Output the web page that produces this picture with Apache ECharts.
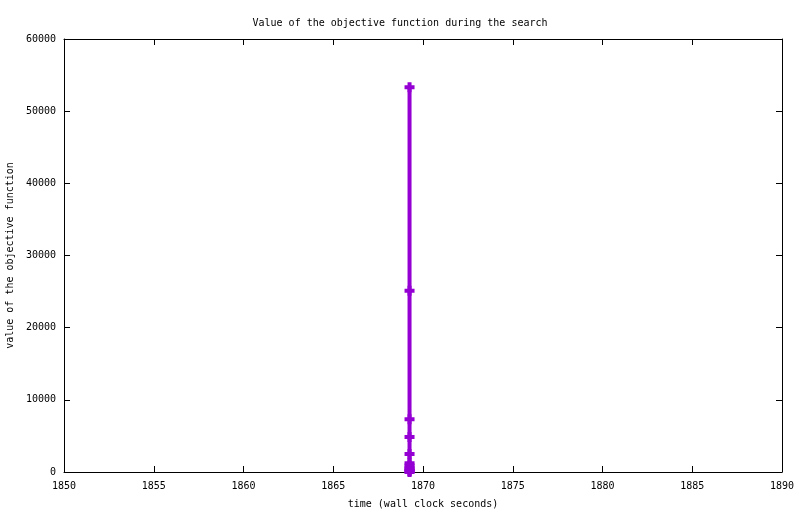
<!DOCTYPE html>
<html>
<head>
<meta charset="utf-8">
<script src="https://cdn.jsdelivr.net/npm/echarts@6/dist/echarts.min.js"></script>
<style>html,body{margin:0;padding:0;background:#fff}#c{width:800px;height:514px}</style>
</head>
<body>
<div id="c"></div>
<script>
const times = [1869.25, 1869.25, 1869.25, 1869.25, 1869.25, 1869.25, 1869.25, 1869.25, 1869.25, 1869.25, 1869.25, 1869.25];
const values = [53300, 25100, 7300, 4850, 2500, 1200, 900, 600, 400, 200, 100, 0];
const xTicks = { min: 1850, max: 1890, interval: 5 };
const yTicks = { min: 0, max: 60000, interval: 10000 };
const titleText = 'Value of the objective function during the search';
const xName = 'time (wall clock seconds)';
const yName = 'value of the objective function';

const FONT = 'DejaVu Sans Mono';
const chart = echarts.init(document.getElementById('c'), null, { renderer: 'canvas' });
const plain = v => String(v);
const axisCommon = {
  axisLine: { show: true, onZero: false, lineStyle: { color: '#000', width: 1 } },
  axisTick: { show: true, inside: true, length: 6, lineStyle: { color: '#000' } },
  splitLine: { show: false },
  axisLabel: { color: '#000', fontFamily: FONT, fontSize: 10 }
};
chart.setOption({
  animation: false,
  backgroundColor: '#fff',
  title: {
    text: titleText, left: 'center', top: 13,
    textStyle: { fontFamily: FONT, fontSize: 10, fontWeight: 'normal', color: '#000' }
  },
  grid: { left: 64, right: 18, top: 39, bottom: 42, containLabel: false, outerBoundsMode: 'none' },
  xAxis: [
    Object.assign({}, axisCommon, {
      type: 'value', position: 'bottom', min: xTicks.min, max: xTicks.max, interval: xTicks.interval,
      name: xName, nameLocation: 'middle', nameGap: 27,
      nameTextStyle: { fontFamily: FONT, fontSize: 10, color: '#000' },
      axisLabel: { color: '#000', fontFamily: FONT, fontSize: 10, margin: 9, formatter: plain }
    }),
    Object.assign({}, axisCommon, {
      type: 'value', position: 'top', min: xTicks.min, max: xTicks.max, interval: xTicks.interval,
      axisLabel: { show: false }
    })
  ],
  yAxis: [
    Object.assign({}, axisCommon, {
      type: 'value', position: 'left', min: yTicks.min, max: yTicks.max, interval: yTicks.interval,
      name: yName, nameLocation: 'middle', nameGap: 48, nameRotate: 90,
      nameTextStyle: { fontFamily: FONT, fontSize: 10, color: '#000' },
      axisLabel: { color: '#000', fontFamily: FONT, fontSize: 10, margin: 8, formatter: plain }
    }),
    Object.assign({}, axisCommon, {
      type: 'value', position: 'right', min: yTicks.min, max: yTicks.max, interval: yTicks.interval,
      axisLabel: { show: false }
    })
  ],
  series: [{
    type: 'line',
    data: times.map((t, i) => [t, values[i]]),
    symbol: 'path://M3,0H7V3H10V7H7V10H3V7H0V3H3Z',
    symbolSize: [10, 10],
    showAllSymbol: true,
    lineStyle: { color: '#9400D3', width: 4 },
    itemStyle: { color: '#9400D3', borderWidth: 0 },
    clip: false
  }]
});
</script>
</body>
</html>
